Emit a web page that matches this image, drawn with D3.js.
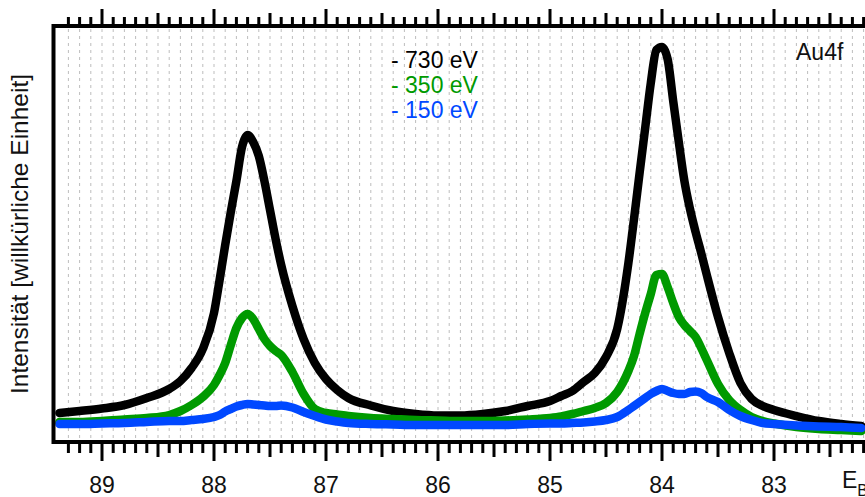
<!DOCTYPE html>
<html><head><meta charset="utf-8">
<script src="https://cdn.jsdelivr.net/npm/d3@7"></script>
<style>
html,body{margin:0;padding:0;background:#fff;}
svg{display:block;font-family:"Liberation Sans",Arial,sans-serif;}
</style></head>
<body>
<svg id="chart" width="865" height="497"></svg>
<script>
// Binding energy grid (eV)
const energies = [89.38,89.2,89.0,88.8,88.6,88.4,88.3,88.2,88.1,88.0,
  87.95,87.9,87.85,87.8,87.75,87.7,87.65,87.6,87.55,87.5,
  87.45,87.4,87.3,87.2,87.1,87.0,86.9,86.8,86.6,86.4,
  86.2,86.0,85.8,85.6,85.4,85.2,85.0,84.9,84.8,84.7,
  84.6,84.5,84.4,84.3,84.25,84.2,84.15,84.1,84.05,84.0,
  83.95,83.9,83.85,83.8,83.75,83.7,83.65,83.6,83.5,83.4,
  83.3,83.2,83.1,83.0,82.8,82.6,82.4,82.22];
// Intensities (arbitrary units)
const i730 = [29,31,33.5,37,44,53,61,74,93,129,
  162,197,230,261,295,307,300,286,261,232,
  203,177,136,103,79,63,52,44,36.5,31,
  28,26.5,26.5,28,31,36,41,46,51,60,
  69,85,113,179,223,269,314,359,392,395,
  383,341,300,261,233,210,189,167,125,89,
  59,43,36,32,26,21,18,16];
const i350 = [20,20,21,22.5,24,27,31,37,45,57,
  67,79,97,114,124,128,123,113,103,96,
  91,87,70,48,33,29,27.5,26,24,23,
  22,21.5,21,21,21.5,22.5,24,25.5,28,31,
  34,39,50,71,86,108,129,148,167,168,
  155,139,125,117,111,105,94,82,58,42,
  32,25,21,18.5,15,13,12,11];
const i150 = [18,18,18.5,19,20,21,21,22,23,25,
  27,30.5,33,35.5,37,38,37.5,37,36.5,36,
  36,36.5,34.5,30,26,22.5,20.5,19,18,17.5,
  17,17,17,17,17,18,18.5,18.5,19,19.5,
  20.5,22,25,32,36,40,44,48,51,53,
  51,49,48,48,50,50.5,49,45,40,32,
  26,22,19,18,16.5,15.5,15,14];
const seriesNames = ["- 730 eV","- 350 eV","- 150 eV"];
const seriesColors = ["#000000","#009a00","#0048ff"];
const xTickLabels = [89,88,87,86,85,84,83];

const svg = d3.select("#chart");
const frame = {left:53.5, top:26, bottom:442, right:880};
const x = d3.scaleLinear().domain([89,83]).range([102,774]);
const y = d3.scaleLinear().domain([0,416]).range([frame.bottom, frame.top]);

// minor values every 0.1 eV
const minorVals = d3.range(893, 821, -1).map(v => v/10);

// dotted grid
svg.append("g").selectAll("line").data(minorVals).join("line")
  .attr("x1", d => x(d)).attr("x2", d => x(d))
  .attr("y1", frame.top+3).attr("y2", frame.bottom-2)
  .attr("stroke", "#bdbdbd").attr("stroke-width", 1)
  .attr("stroke-dasharray", "3,4");

function tickLen(d){
  const t = Math.round(d*10);
  if (t % 10 === 0) return 19;
  if (t % 5 === 0) return 15;
  return 11;
}
// bottom ticks
svg.append("g").selectAll("line").data(minorVals).join("line")
  .attr("x1", d => x(d)).attr("x2", d => x(d))
  .attr("y1", frame.bottom).attr("y2", d => frame.bottom + tickLen(d))
  .attr("stroke", "#000").attr("stroke-width", 3);
// top ticks
svg.append("g").selectAll("line").data(minorVals).join("line")
  .attr("x1", d => x(d)).attr("x2", d => x(d))
  .attr("y1", frame.top).attr("y2", d => frame.top - tickLen(d) + 2)
  .attr("stroke", "#000").attr("stroke-width", 3);

// tick labels
svg.append("g").selectAll("text").data(xTickLabels).join("text")
  .attr("x", d => x(d)).attr("y", 493)
  .attr("text-anchor", "middle").attr("font-size", 23).attr("fill", "#111")
  .text(d => d);

// curves
const line = d3.line().x(d => x(d[0])).y(d => y(d[1])).curve(d3.curveMonotoneX);
[i730, i350, i150].forEach((vals, k) => {
  const pts = energies.map((e, i) => [e, vals[i]]);
  svg.append("path").datum(pts)
    .attr("d", line).attr("fill", "none")
    .attr("stroke", seriesColors[k]).attr("stroke-width", 8.5)
    .attr("stroke-linejoin", "round").attr("stroke-linecap", "round");
});

// frame
svg.append("path")
  .attr("d", `M${frame.right},${frame.top}H${frame.left}V${frame.bottom}H${frame.right}`)
  .attr("fill", "none").attr("stroke", "#000").attr("stroke-width", 4);

// legend
svg.append("g").selectAll("text").data(seriesNames).join("text")
  .attr("x", 391).attr("y", (d, i) => 68 + i*25)
  .attr("font-size", 23).attr("fill", (d, i) => seriesColors[i])
  .text(d => d);

svg.append("text").attr("x", 796).attr("y", 60).attr("font-size", 23)
  .attr("fill", "#111").text("Au4f");

// axis titles
const eb = svg.append("text").attr("x", 842).attr("y", 488).attr("font-size", 23).attr("fill", "#111");
eb.append("tspan").text("E");
eb.append("tspan").attr("font-size", 16).attr("dy", 8).text("B");

svg.append("text")
  .attr("transform", "translate(28,234) rotate(-90)")
  .attr("text-anchor", "middle").attr("font-size", 24.5).attr("fill", "#111")
  .text("Intensität [willkürliche Einheit]");
</script>
</body></html>
